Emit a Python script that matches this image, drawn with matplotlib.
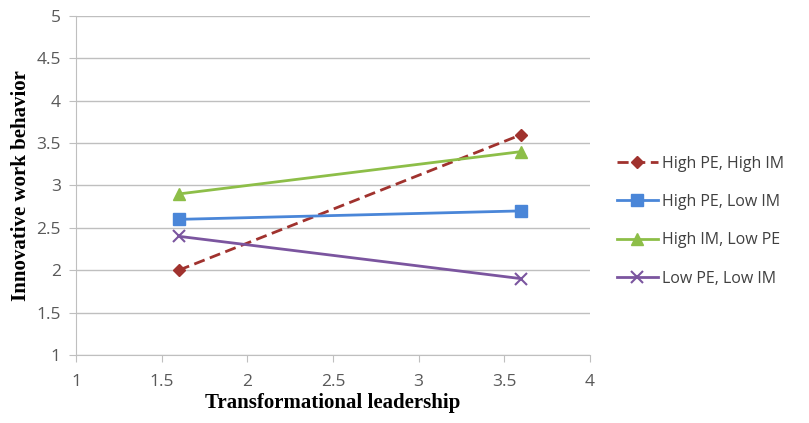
import numpy as np
import matplotlib
matplotlib.use("Agg")
import matplotlib.pyplot as plt

# data
x = [1.6, 3.6]
high_pe_high_im = [2.0, 3.6]
high_pe_low_im = [2.6, 2.7]
high_im_low_pe = [2.9, 3.4]
low_pe_low_im = [2.4, 1.9]

labels = ["High PE, High IM", "High PE, Low IM", "High IM, Low PE", "Low PE, Low IM"]
xticks = [1, 1.5, 2, 2.5, 3, 3.5, 4]
yticks = [1, 1.5, 2, 2.5, 3, 3.5, 4, 4.5, 5]

fig = plt.figure(figsize=(8.09, 4.23), dpi=100)
ax = fig.add_axes([0.094, 0.161, 0.635, 0.801])

ax.plot(x, high_pe_high_im, color="#A0322E", linestyle="--", linewidth=2,
        marker="D", markersize=6, label=labels[0], dashes=(4, 2))
ax.plot(x, high_pe_low_im, color="#4A86D8", linewidth=2,
        marker="s", markersize=9, label=labels[1])
ax.plot(x, high_im_low_pe, color="#8DBE48", linewidth=2,
        marker="^", markersize=9, label=labels[2])
ax.plot(x, low_pe_low_im, color="#7B559F", linewidth=2,
        marker="x", markersize=9, markeredgewidth=1.5, label=labels[3])

ax.set_xlim(1, 4)
ax.set_ylim(1, 5)
ax.set_xticks(xticks)
ax.set_yticks(yticks)
ax.set_xticklabels([f"{t:g}" for t in xticks])
ax.set_yticklabels([f"{t:g}" for t in yticks])
ax.yaxis.grid(True, color="#BFBFBF", linewidth=1)
ax.set_axisbelow(True)

for s in ["top", "right"]:
    ax.spines[s].set_visible(False)
for s in ["left", "bottom"]:
    ax.spines[s].set_color("#BFBFBF")
ax.tick_params(axis="both", colors="#BFBFBF", direction="out", length=5,
               labelcolor="#595959", labelsize=12.5)
ax.tick_params(axis="x", pad=9)
ax.tick_params(axis="y", pad=6)
for lab in ax.get_xticklabels() + ax.get_yticklabels():
    lab.set_family("Open Sans")

ax.set_xlabel("Transformational leadership", family="Liberation Serif",
              fontweight="bold", fontsize=15, labelpad=2)
ax.set_ylabel("Innovative work behavior", family="Liberation Serif",
              fontweight="bold", fontsize=15, labelpad=4)

leg = ax.legend(loc="center left", bbox_to_anchor=(1.04, 0.395), frameon=False,
                prop={"family": "Open Sans", "size": 11.5}, labelspacing=1.4,
                handlelength=2.6, handletextpad=0.25, borderaxespad=0)
for t in leg.get_texts():
    t.set_color("#404040")

fig.savefig("out.png", dpi=100)
